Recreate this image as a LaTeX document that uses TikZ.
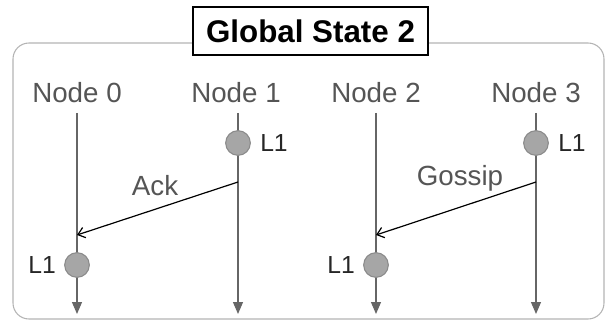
\documentclass[tikz,border=0pt]{standalone}
\usepackage{fontspec}
\setmainfont{Liberation Sans}
\usetikzlibrary{arrows.meta}

\definecolor{framegray}{HTML}{B4B4B4}
\definecolor{lifegray}{HTML}{666666}
\definecolor{textgray}{HTML}{555555}
\definecolor{dotfill}{HTML}{A6A6A6}
\definecolor{dotedge}{HTML}{8A8A8A}

\tikzset{
	title/.style={draw=black, line width=1.1pt, fill=white, inner sep=0pt,
		minimum width=176pt, minimum height=36pt,
		font=\fontsize{23.5}{27}\selectfont\bfseries},
	proc/.style={text=textgray, inner sep=0pt, font=\fontsize{20.8}{24}\selectfont},
	life/.style={draw=lifegray, line width=0.9pt,
		-{Triangle[length=9pt, width=7.5pt]}},
	event/.style={circle, fill=dotfill, draw=dotedge, line width=0.8pt,
		minimum size=18.5pt, inner sep=0pt},
	lvl/.style={text=black!85, inner sep=0pt, font=\fontsize{18.5}{22}\selectfont},
	msg/.style={draw=black, line width=0.9pt,
		-{Straight Barb[length=5pt, width=8pt]}},
	msglbl/.style={text=textgray, inner sep=0pt, font=\fontsize{20.8}{24}\selectfont}
}

\begin{document}
\begin{tikzpicture}[x=0.75pt, y=-0.75pt]
	\useasboundingbox (0,0) rectangle (606,324);

	% frame around the state
	\draw [framegray, line width=0.8pt, rounded corners=12pt] (13,43) rectangle (604,319);
	\node [title] (state) at (310.5,31) {Global State 2};

	% process names
	\node [proc] (N0) at (77,93) {Node 0};
	\node [proc] (N1) at (236,93) {Node 1};
	\node [proc] (N2) at (376,93) {Node 2};
	\node [proc] (N3) at (536,93) {Node 3};

	\coordinate (T0) at (77,113);
	\coordinate (T1) at (238,113);
	\coordinate (T2) at (376,113);
	\coordinate (T3) at (536,113);
	\coordinate (B0) at (77,314);
	\coordinate (B1) at (238,314);
	\coordinate (B2) at (376,314);
	\coordinate (B3) at (536,314);

	\draw [life] (T0) -- (B0);
	\draw [life] (T1) -- (B1);
	\draw [life] (T2) -- (B2);
	\draw [life] (T3) -- (B3);

	% messages
	\coordinate (S1) at (238,182);
	\coordinate (R0) at (77,235);
	\coordinate (S3) at (536,182);
	\coordinate (R2) at (376,235);

	\draw [msg] (S1) -- (R0);
	\draw [msg] (S3) -- (R2);
	\node [msglbl] (ack) at (155,186) {Ack};
	\node [msglbl] (gossip) at (460,178) {Gossip};

	% level events
	\node [event] (E1) at (238,143) {};
	\node [event] (E3) at (536,143) {};
	\node [event] (E0) at (77,265) {};
	\node [event] (E2) at (376,265) {};

	\node [lvl, anchor=west] (L1a) at (260,143) {L1};
	\node [lvl, anchor=west] (L1c) at (558,143) {L1};
	\node [lvl, anchor=east] (L1b) at (56,265) {L1};
	\node [lvl, anchor=east] (L1d) at (355,265) {L1};
\end{tikzpicture}
\end{document}
